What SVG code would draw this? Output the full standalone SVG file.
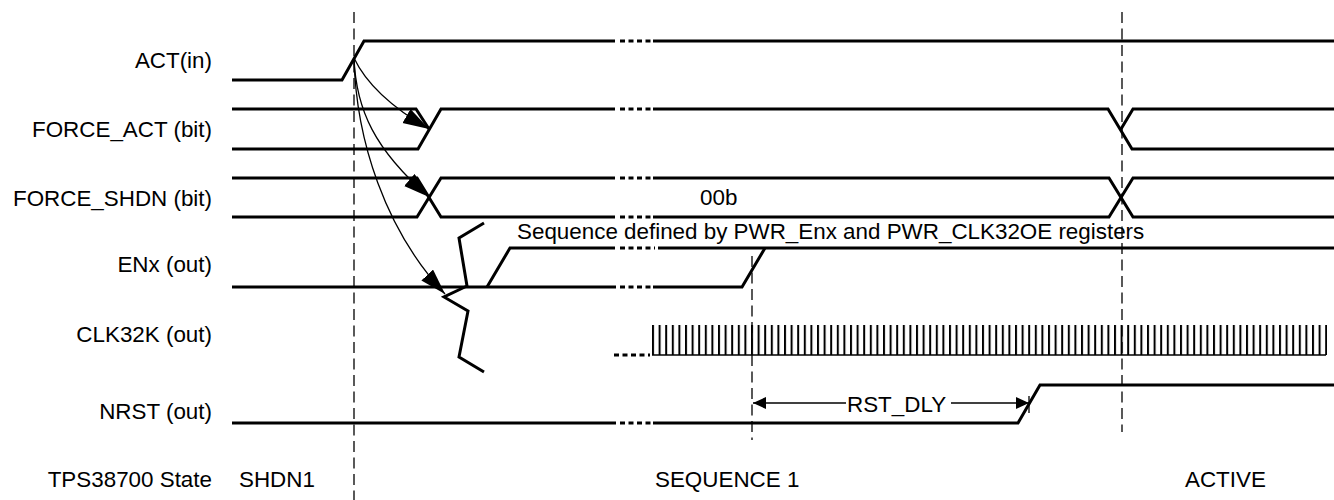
<svg xmlns="http://www.w3.org/2000/svg" width="1334" height="500" viewBox="0 0 1334 500">
<style>
text{font-family:"Liberation Sans",Arial,sans-serif;font-size:22.4px;fill:#000}
.lbl{text-anchor:end}
.w{fill:none;stroke:#000;stroke-width:3;stroke-linejoin:miter}
.dot{fill:none;stroke:#000;stroke-width:3;stroke-dasharray:5 3.5}
.dash{fill:none;stroke:#000;stroke-width:1.3;stroke-dasharray:11 5.5}
.cause{fill:none;stroke:#000;stroke-width:1.3}
.thin{fill:none;stroke:#000;stroke-width:1.3}
</style>
<defs>
<marker id="big" markerUnits="userSpaceOnUse" markerWidth="27" markerHeight="17" refX="26" refY="8" orient="auto"><path d="M0,0 L26,8 L0,16 z" fill="#000"/></marker>
<marker id="sm" markerUnits="userSpaceOnUse" markerWidth="14" markerHeight="13" refX="13" refY="6" orient="auto"><path d="M0,0 L13,6 L0,12 z" fill="#000"/></marker>
<pattern id="clk" x="652" y="325" width="6.6" height="30" patternUnits="userSpaceOnUse"><rect x="0" y="0" width="2" height="30" fill="#000"/></pattern>
</defs>
<rect width="1334" height="500" fill="#fff"/>

<g id="act">
<text class="lbl" x="212" y="68">ACT(in)</text>
<path class="w" d="M232,80 H342 L364,41 H615"/>
<path class="dot" d="M620,41 H651"/>
<path class="w" d="M653,41 H1334"/>
</g>

<g id="force_act">
<text class="lbl" x="212" y="137">FORCE_ACT (bit)</text>
<path class="w" d="M232,109 H416 L429,129"/>
<path class="w" d="M232,149 H418 L441,109 H615"/>
<path class="dot" d="M620,109 H651"/>
<path class="w" d="M653,109 H1108 L1132,149 H1334"/>
<path class="w" d="M1121,129 L1133,109 H1334"/>
</g>

<g id="force_shdn">
<text class="lbl" x="212" y="206">FORCE_SHDN (bit)</text>
<path class="w" d="M232,178 H417 L441,217 H615"/>
<path class="w" d="M232,217 H417 L441,178 H615"/>
<path class="dot" d="M620,178 H651 M620,217 H651"/>
<path class="w" d="M653,178 H1109 L1133,217 H1334"/>
<path class="w" d="M653,217 H1109 L1133,178 H1334"/>
<text x="700" y="205">00b</text>
</g>

<g id="enx">
<text class="lbl" x="212" y="272">ENx (out)</text>
<path class="w" d="M232,287 H616"/>
<path class="dot" d="M620,287 H651"/>
<path class="w" d="M653,287 H742 L765,248"/>
<path class="w" d="M487,287 L510,248 H615"/>
<path class="dot" d="M620,248 H655"/>
<path class="w" d="M658,248 H1334"/>
<polyline class="w" points="484,223 459,238 467,286 444,297 468,311 459,357 484,372"/>
<text x="517" y="239">Sequence defined by PWR_Enx and PWR_CLK32OE registers</text>
</g>

<g id="clk32k">
<text class="lbl" x="212" y="342">CLK32K (out)</text>
<path class="dot" d="M614,355 H650"/>
<path class="thin" d="M652,355 H1326"/>
<rect x="652" y="325" width="675" height="30" fill="url(#clk)"/>
</g>

<g id="nrst">
<text class="lbl" x="212" y="419">NRST (out)</text>
<path class="w" d="M232,423 H616"/>
<path class="dot" d="M620,423 H651"/>
<path class="w" d="M653,423 H1018 L1040,385 H1334"/>
</g>

<g id="state">
<text class="lbl" x="212" y="487">TPS38700 State</text>
<text x="239" y="487">SHDN1</text>
<text x="655" y="487">SEQUENCE 1</text>
<text x="1185" y="487">ACTIVE</text>
</g>

<g id="markers">
<path class="dash" d="M354,12 V500"/>
<path class="dash" d="M752,256 V440"/>
<path class="dash" d="M1122,12 V432"/>
</g>

<g id="connectors">
<path class="cause" d="M354,58 Q372,96 429,129" marker-end="url(#big)"/>
<path class="cause" d="M354,58 C356,110 375,150 429,197" marker-end="url(#big)"/>
<path class="cause" d="M354,58 C356,140 385,230 445,294" marker-end="url(#big)"/>
<path class="thin" d="M846,403 H753" marker-end="url(#sm)"/>
<path class="thin" d="M951,403 H1029" marker-end="url(#sm)"/>
<path class="thin" d="M1029,396 V413"/>
<text x="847" y="412">RST_DLY</text>
</g>
</svg>
